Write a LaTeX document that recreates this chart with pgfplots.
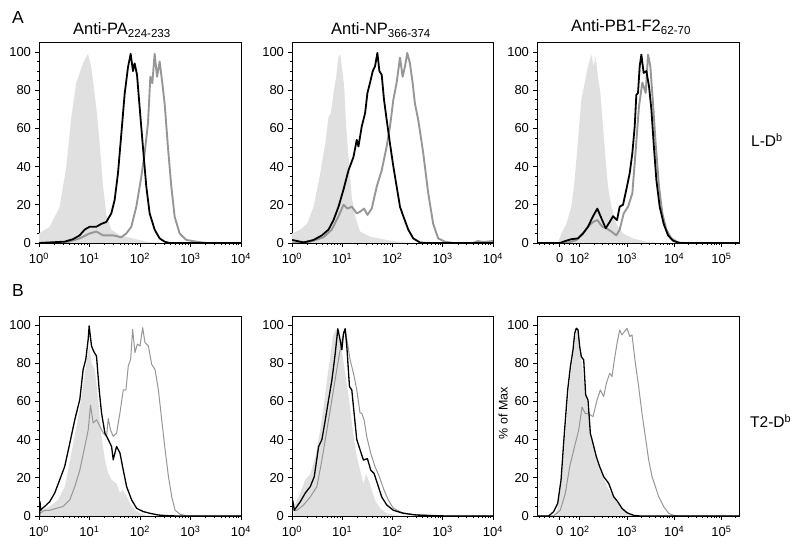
\documentclass[border=0pt]{standalone}
\usepackage{fontspec}
\setmainfont{Liberation Sans}
\usepackage{pgfplots}
\pgfplotsset{compat=1.18}
\definecolor{fillgrey}{RGB}{224,224,224}
\definecolor{linegrey}{RGB}{150,150,150}
\pgfplotsset{
  hist/.style={scale only axis, anchor=south west, ymin=0,
    ytick={0,20,40,60,80,100}, yticklabels={0,20,40,60,80,100},
    minor y tick num=3, tick align=outside, xtick pos=bottom, ytick pos=left,
    major tick length=4pt, minor tick length=2pt,
    axis line style={line width=0.8pt},
    every tick/.style={black, line width=0.6pt},
    tick label style={font=\fontsize{13}{15}\selectfont},
    yticklabel style={xshift=-0.5pt},
    xticklabel style={yshift=-2.5pt},
    clip=true},
  row1/.style={height=201pt, ymax=105.2},
  row2/.style={height=200pt, ymax=104.7},
  logx/.style={width=202pt, xmin=0, xmax=4, xtick={0,1,2,3,4},
    xticklabels={10\textsuperscript{0},10\textsuperscript{1},10\textsuperscript{2},10\textsuperscript{3},10\textsuperscript{4}},
    minor xtick={0.301,0.477,0.602,0.699,0.778,0.845,0.903,0.954,
      1.301,1.477,1.602,1.699,1.778,1.845,1.903,1.954,
      2.301,2.477,2.602,2.699,2.778,2.845,2.903,2.954,
      3.301,3.477,3.602,3.699,3.778,3.845,3.903,3.954}},
  logicle/.style={width=202pt, xmin=1.096, xmax=5.374, xtick={1.576,2,3,4,5},
    xticklabels={0,10\textsuperscript{2},10\textsuperscript{3},10\textsuperscript{4},10\textsuperscript{5}},
    minor xtick={1.15,1.25,1.35,1.45,1.68,1.78,1.86,1.93,
      2.301,2.477,2.602,2.699,2.778,2.845,2.903,2.954,
      3.301,3.477,3.602,3.699,3.778,3.845,3.903,3.954,
      4.301,4.477,4.602,4.699,4.778,4.845,4.903,4.954,5.301}},
  fillh/.style={fill=fillgrey, draw=none},
  blk1/.style={black, line width=1.8pt, line join=round},
  gry1/.style={linegrey, line width=1.9pt, line join=round},
  blk2/.style={black, line width=1.3pt, line join=round},
  gry2/.style={linegrey, line width=1.0pt, line join=round},
}
\begin{document}
\begin{tikzpicture}
\path[use as bounding box] (0,0) rectangle (800pt,551pt);
\clip (0,0) rectangle (800pt,551pt);

% ---------- Panel 1 ----------
\begin{axis}[hist, row1, logx, at={(39pt,308pt)}]
\addplot[fillh] coordinates {(0,5) (0.211,8.5) (0.409,19) (0.541,40) (0.640,66) (0.739,84) (0.871,94) (0.970,99) (1.036,92) (1.135,71) (1.201,52) (1.267,30) (1.333,15) (1.432,7) (1.597,4) (1.861,2.4) (2.125,0.7) (2.389,0)} \closedcycle;
\addplot[gry1] coordinates {(0,0) (0.541,0.3) (0.805,2.4) (1.003,5) (1.135,6) (1.267,4) (1.465,4) (1.630,3) (1.729,5) (1.828,8.5) (1.927,19) (2.026,34.7) (2.092,47) (2.158,62.7) (2.205,87) (2.244,83.6) (2.290,99) (2.337,87) (2.389,95) (2.436,85) (2.488,73) (2.554,50) (2.620,29.5) (2.686,13.8) (2.785,5) (2.917,1.6) (3.115,0.7) (3.314,0) (4,0)};
\addplot[blk1] coordinates {(0,0) (0.508,0.7) (0.673,2) (0.805,4) (0.904,7) (1.003,8.5) (1.135,8.5) (1.234,10) (1.333,11) (1.432,15.5) (1.498,22.5) (1.564,36.5) (1.630,57) (1.696,78) (1.762,92) (1.815,99) (1.861,90) (1.894,94) (1.941,88) (1.993,71) (2.059,50) (2.125,29.5) (2.191,15.5) (2.290,7) (2.389,2.4) (2.488,0.7) (2.587,0) (4,0)};
\end{axis}

% ---------- Panel 2 ----------
\begin{axis}[hist, row1, logx, width=201pt, at={(292pt,308pt)}]
\addplot[fillh] coordinates {(0,5) (0.165,7) (0.298,10) (0.430,19) (0.562,36.5) (0.661,52) (0.727,66) (0.774,68) (0.826,78.5) (0.879,87) (0.926,97.7) (0.959,98.6) (0.992,92.5) (1.038,82) (1.078,61) (1.124,45) (1.190,24) (1.256,14) (1.355,6) (1.554,3.3) (1.884,1.6) (2.215,0.3) (2.413,0)} \closedcycle;
\addplot[gry1] coordinates {(0,0) (0.364,0.7) (0.628,3) (0.793,7) (0.926,14) (1.025,20) (1.104,18) (1.190,19) (1.289,15.5) (1.355,16.4) (1.435,18) (1.501,14.7) (1.587,18) (1.686,29.5) (1.785,38) (1.884,50.5) (1.950,61) (2.017,75) (2.083,84) (2.149,97) (2.202,87) (2.248,92.5) (2.294,99.5) (2.347,94) (2.400,84) (2.446,73) (2.512,64.5) (2.612,47) (2.711,26) (2.810,10) (2.909,2.4) (3.041,0.7) (3.207,0) (3.6,0) (3.7,1) (3.8,0.5) (4,1)};
\addplot[blk1] coordinates {(0,1.6) (0.231,0.3) (0.430,1.6) (0.595,4) (0.727,7) (0.826,12) (0.926,19) (1.025,28) (1.124,38) (1.223,45) (1.289,54) (1.322,50.5) (1.388,61) (1.455,68) (1.501,78.5) (1.554,84) (1.607,90) (1.653,92.5) (1.699,99.5) (1.739,90) (1.785,88) (1.831,75) (1.884,64.5) (1.950,52) (2.017,40) (2.083,29.5) (2.149,19) (2.215,14) (2.314,7) (2.413,2.4) (2.545,0.3) (2.678,0) (4,0)};
\end{axis}

% ---------- Panel 3 ----------
\begin{axis}[hist, row1, logicle, at={(537pt,308pt)}]
\addplot[fillh] coordinates {(1.541,0) (1.612,5) (1.718,10) (1.824,19) (1.894,33) (1.965,54) (2.035,75) (2.106,84) (2.176,92.5) (2.247,98.6) (2.296,92.5) (2.339,97.7) (2.388,87) (2.438,78.5) (2.494,61) (2.551,43.5) (2.600,29.5) (2.671,19) (2.776,10) (2.918,5) (3.129,2.4) (3.412,0.7) (3.694,0)} \closedcycle;
\addplot[gry1] coordinates {(1.096,0) (1.718,0) (1.929,1.5) (2.071,5) (2.176,8.5) (2.282,11) (2.374,12) (2.480,8.5) (2.565,7.7) (2.671,6) (2.776,4) (2.847,7) (2.932,15.5) (3.024,19) (3.115,26) (3.186,48.6) (3.256,71.5) (3.327,84) (3.398,78.5) (3.447,98.6) (3.496,92.5) (3.553,73) (3.609,52) (3.680,29.5) (3.751,15.5) (3.835,7) (3.941,2.4) (4.082,0.3) (4.188,0) (5.374,0)};
\addplot[blk1] coordinates {(1.096,0) (1.576,0) (1.718,1.2) (1.824,2) (1.965,2.4) (2.071,5) (2.176,8.5) (2.282,14) (2.374,18) (2.459,13) (2.551,7.7) (2.635,11) (2.706,14) (2.791,12) (2.847,19) (2.918,20) (2.988,28) (3.059,36.5) (3.115,47) (3.165,61) (3.200,77.6) (3.235,78.5) (3.271,92.5) (3.306,98.6) (3.355,89) (3.412,90) (3.468,82) (3.518,70) (3.567,52) (3.624,33) (3.694,19) (3.779,10) (3.871,4) (3.976,1.2) (4.118,0) (5.374,0)};
\end{axis}

% ---------- Panel 4 ----------
\begin{axis}[hist, row2, logx, at={(39pt,35pt)}]
\addplot[fillh] coordinates {(0.046,3) (0.212,5) (0.377,8.4) (0.510,15.4) (0.642,33) (0.742,47) (0.841,62) (0.927,78) (0.993,89) (1.040,80) (1.106,76.7) (1.172,61) (1.238,41.7) (1.305,29.4) (1.371,22.4) (1.437,19) (1.536,17) (1.603,12) (1.656,13.7) (1.722,11) (1.801,6.7) (1.901,3) (2.000,1.4) (2.132,0.3) (2.265,0)} \closedcycle;
\addplot[gry2] coordinates {(0.013,1.4) (0.113,3) (0.212,3) (0.344,4) (0.477,5) (0.609,8.4) (0.709,15.4) (0.808,24) (0.907,36.4) (0.974,45) (1.020,58) (1.073,48.7) (1.139,50.4) (1.205,47) (1.272,43.4) (1.338,41.7) (1.371,51) (1.417,45) (1.470,41.7) (1.536,43.4) (1.603,54) (1.669,66) (1.722,66) (1.768,78.5) (1.815,82) (1.854,97.7) (1.901,85.5) (1.947,90) (2.000,89) (2.053,98.6) (2.099,90.7) (2.166,89) (2.232,79.3) (2.298,76.7) (2.364,66) (2.430,50.4) (2.497,34.7) (2.563,20.7) (2.629,10) (2.695,3) (2.795,0.9) (2.927,0) (4,0)};
\addplot[blk2] coordinates {(0.013,0) (0.020,7.5) (0.033,3) (0.066,4) (0.113,5) (0.212,7.5) (0.311,12) (0.411,19) (0.510,26) (0.609,38) (0.709,50.4) (0.808,61) (0.874,76.7) (0.927,82) (0.974,92.5) (0.993,99.5) (1.040,89) (1.086,86) (1.139,83.7) (1.192,66) (1.238,54) (1.305,43.4) (1.371,40) (1.437,36.4) (1.470,29.4) (1.536,36.4) (1.603,33) (1.669,24) (1.735,15.4) (1.834,8.4) (1.934,4) (2.066,2.3) (2.199,1.4) (2.364,0.5) (2.530,0.2) (2.728,0) (4,0)};
\end{axis}

% ---------- Panel 5 ----------
\begin{axis}[hist, row2, logx, width=201pt, at={(292pt,35pt)}]
\addplot[fillh] coordinates {(0.033,5) (0.132,10) (0.264,19) (0.364,22) (0.463,31) (0.562,45) (0.628,57) (0.694,71) (0.760,83) (0.813,94) (0.879,98) (0.945,94) (1.012,83) (1.078,71) (1.144,59) (1.210,45) (1.276,33) (1.355,24) (1.421,17) (1.474,22) (1.521,19) (1.587,13.6) (1.653,8.4) (1.752,4) (1.884,1.4) (2.083,0.3) (2.281,0)} \closedcycle;
\addplot[gry2] coordinates {(0.013,3) (0.099,3) (0.231,5.8) (0.364,10) (0.496,15.4) (0.595,29.3) (0.694,45) (0.793,60.7) (0.879,74.7) (0.945,85) (1.012,94) (1.058,98) (1.104,90.4) (1.157,81.7) (1.223,74.7) (1.289,66) (1.355,53.8) (1.388,53.8) (1.435,50.3) (1.488,41.5) (1.567,32.8) (1.653,25.8) (1.739,20.6) (1.831,13.6) (1.917,8.4) (2.017,4) (2.182,1.9) (2.413,0.7) (2.810,0.2) (3.074,0) (4,0)};
\addplot[blk2] coordinates {(0.013,8.4) (0.046,3) (0.099,5) (0.165,7.5) (0.264,12) (0.364,15.4) (0.443,20.6) (0.529,36.3) (0.595,40) (0.661,50) (0.727,60.7) (0.793,71) (0.860,85) (0.912,98) (0.959,92) (0.992,87) (1.025,95.6) (1.058,98) (1.091,88.7) (1.144,67.7) (1.190,66) (1.236,53.8) (1.289,40) (1.355,34.6) (1.421,29.3) (1.501,30) (1.567,24) (1.633,22.3) (1.699,17) (1.785,10) (1.884,5.8) (2.017,3) (2.215,1.4) (2.479,0.5) (2.810,0.2) (3.074,0) (4,0)};
\end{axis}

% ---------- Panel 6 ----------
\begin{axis}[hist, row2, logicle, at={(537pt,35pt)},
  ylabel={\% of Max},
  ylabel style={at={(axis description cs:-0.168,0.515)}, anchor=center, font=\fontsize{12.5}{14}\selectfont}]
\addplot[fillh] coordinates {(1.414,0) (1.520,3) (1.605,15.4) (1.675,36.3) (1.746,57) (1.802,73) (1.859,83.4) (1.908,94) (1.944,97.4) (1.986,94) (2.028,83.4) (2.085,71) (2.141,62.5) (2.191,52) (2.240,41.5) (2.311,32.8) (2.402,25.8) (2.494,20.6) (2.579,15.4) (2.664,11.9) (2.755,8.4) (2.861,4.9) (2.967,2.3) (3.108,0.5) (3.214,0)} \closedcycle;
\addplot[gry2] coordinates {(1.096,0) (1.449,0) (1.591,3.1) (1.696,11.9) (1.788,25.8) (1.908,38) (1.979,45) (2.049,57) (2.120,53.6) (2.191,53.6) (2.282,52) (2.367,60.7) (2.438,66) (2.508,62.5) (2.565,69.5) (2.635,74.7) (2.685,73) (2.734,81.7) (2.791,90.4) (2.847,97.4) (2.896,94.8) (2.946,96.5) (3.002,98.3) (3.059,94) (3.108,94.8) (3.179,80) (3.249,67.7) (3.320,53.6) (3.391,41.5) (3.461,29.3) (3.532,20.6) (3.602,15.4) (3.673,10.1) (3.779,4.9) (3.885,1.4) (3.991,0.3) (4.132,0) (5.374,0)};
\addplot[blk2] coordinates {(1.096,0) (1.344,0) (1.449,2.3) (1.534,6.6) (1.605,18.8) (1.675,43.3) (1.746,66) (1.802,78) (1.859,87) (1.894,95.6) (1.929,98.3) (1.965,97.4) (2.000,88.7) (2.035,83.4) (2.085,81.7) (2.127,63.4) (2.176,60.7) (2.226,43.3) (2.282,38) (2.353,31) (2.424,25.8) (2.508,20.6) (2.614,17.1) (2.720,10.1) (2.805,7.5) (2.896,4) (3.002,1.7) (3.144,0.3) (3.285,0) (5.374,0)};
\end{axis}

% ---------- Text ----------
\node[anchor=base west, font=\fontsize{17.5}{20}\selectfont, inner sep=0] at (12pt,527pt) {A};
\node[anchor=base west, font=\fontsize{17.5}{20}\selectfont, inner sep=0] at (12pt,254pt) {B};
\node[anchor=base, font=\fontsize{16.5}{18}\selectfont, inner sep=0] at (122pt,516pt) {Anti-PA\textsubscript{224-233}};
\node[anchor=base, font=\fontsize{16.5}{18}\selectfont, inner sep=0] at (381pt,516pt) {Anti-NP\textsubscript{366-374}};
\node[anchor=base, font=\fontsize{16.5}{18}\selectfont, inner sep=0] at (631pt,519pt) {Anti-PB1-F2\textsubscript{62-70}};
\node[anchor=base west, font=\fontsize{15.5}{17}\selectfont, inner sep=0] at (751pt,404pt) {L-D\textsuperscript{b}};
\node[anchor=base west, font=\fontsize{15.5}{17}\selectfont, inner sep=0] at (750pt,123pt) {T2-D\textsuperscript{b}};
\end{tikzpicture}
\end{document}
